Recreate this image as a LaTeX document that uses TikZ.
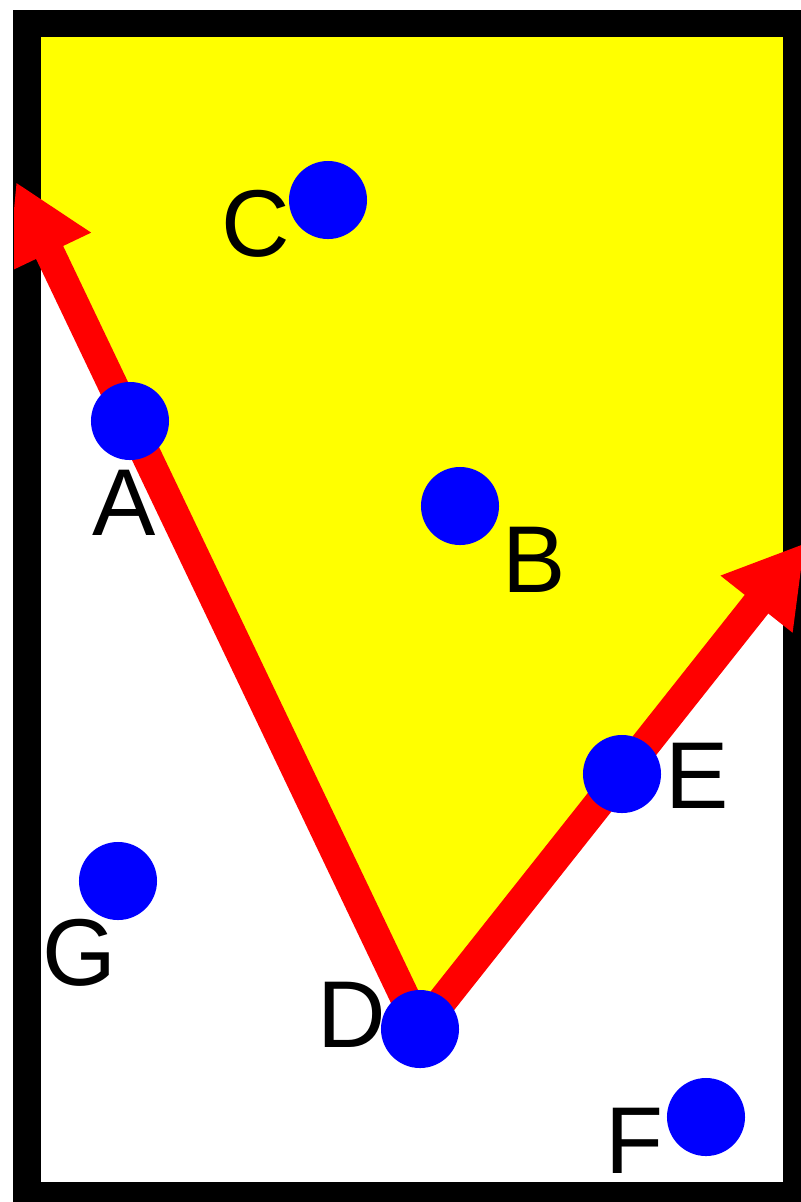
\documentclass[tikz,border=0pt]{standalone}
\usepackage{fontspec}
\setmainfont{Liberation Sans}
\usetikzlibrary{arrows.meta,calc,backgrounds}
\definecolor{zoneyellow}{RGB}{255,255,0}
\definecolor{rayred}{RGB}{255,0,0}
\definecolor{dotblue}{RGB}{0,0,255}

\begin{document}
\begin{tikzpicture}[x=0.01cm, y=-0.01cm,
	dot/.style={circle, fill=dotblue, inner sep=0pt, minimum size=7.8mm},
	lbl/.style={inner sep=0pt, font=\fontsize{27}{32}\selectfont},
	ray/.style={rayred, line width=3mm, -{Triangle[length=7.8mm, width=8.6mm]}}]
	\useasboundingbox (0,0) rectangle (801,1202);
	\clip (0,0) rectangle (801,1202);
	% points
	\node[dot] (A) at (130,421) {};
	\node[dot] (B) at (460,506) {};
	\node[dot] (C) at (328,200) {};
	\node[dot] (D) at (420,1029) {};
	\node[dot] (E) at (622,774) {};
	\node[dot] (F) at (706,1117) {};
	\node[dot] (G) at (118,881) {};
	\node[lbl] (lA) at ($(A)+(-6,82)$) {A};
	\node[lbl] (lB) at ($(B)+(74,54)$) {B};
	\node[lbl] (lC) at ($(C)+(-72,24)$) {C};
	\node[lbl] (lD) at ($(D)+(-68,-14)$) {D};
	\node[lbl] (lE) at ($(E)+(75,2)$) {E};
	\node[lbl] (lF) at ($(F)+(-72,24)$) {F};
	\node[lbl] (lG) at ($(G)+(-39,72)$) {G};
	\coordinate (tipA) at (16,182);
	\coordinate (tipE) at (805,543);
	\begin{scope}[on background layer]
		\fill[white] (0,0) rectangle (801,1202);
		\fill[zoneyellow] (40,37) -- (783,37) -- (783,571) -- (D.center) -- (40,232) -- cycle;
		\draw[line width=2.7mm] (27,23.5) rectangle (796.5,1195.5);
		\begin{scope}
			\clip (14,0) rectangle (801,1202);
			\draw[ray] (D.center) -- (tipA);
			\draw[ray] (D.center) -- (tipE);
		\end{scope}
	\end{scope}
\end{tikzpicture}
\end{document}
